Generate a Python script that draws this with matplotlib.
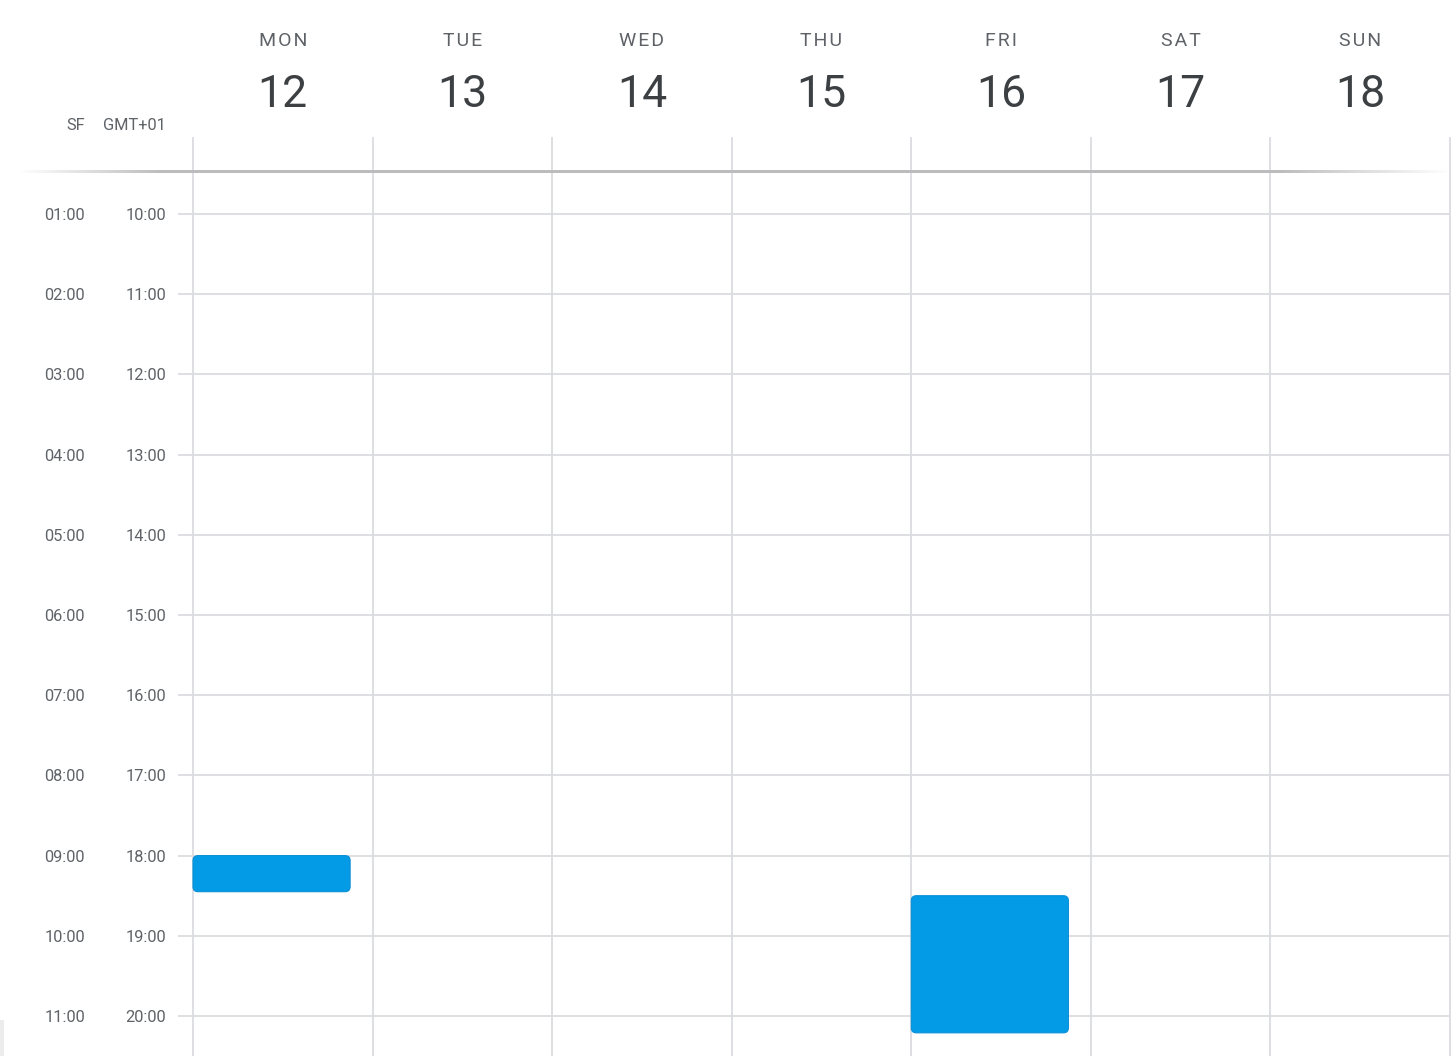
import matplotlib
matplotlib.use("Agg")
import matplotlib.pyplot as plt
from matplotlib.patches import FancyBboxPatch, Rectangle
import numpy as np

# ---- data ----
day_names = ["MON", "TUE", "WED", "THU", "FRI", "SAT", "SUN"]
day_numbers = ["12", "13", "14", "15", "16", "17", "18"]
hours_local = [10, 11, 12, 13, 14, 15, 16, 17, 18, 19, 20]        # GMT+01
hour_labels_local = ["10:00", "11:00", "12:00", "13:00", "14:00", "15:00",
                     "16:00", "17:00", "18:00", "19:00", "20:00"]
hour_labels_sf = ["01:00", "02:00", "03:00", "04:00", "05:00", "06:00",
                  "07:00", "08:00", "09:00", "10:00", "11:00"]
event_days = [0, 4]
event_start = [18.0, 18.5]
event_end = [18.45, 20.21]
event_width = 0.875

# ---- layout (pixel geometry of the 1456x1056 canvas) ----
W, H = 1456, 1056
px_day = (1450 - 193) / 7.0
px_hour = (1016 - 214) / 10.0
x0_px, y10_px = 193, 214

fig = plt.figure(figsize=(W / 100, H / 100), dpi=100)
ax = fig.add_axes([0, 0, 1, 1])

def px2x(p):
    return (p - x0_px) / px_day

def px2y(p):
    return 10 + (p - y10_px) / px_hour

grid_c = "#dadce0"
font = ["Roboto", "DejaVu Sans"]

# vertical day separators
y_top = px2y(137)
y_bot = px2y(H)
for d in range(8):
    ax.plot([d, d], [y_top, y_bot], color=grid_c, lw=1.3, zorder=1,
            solid_capstyle="butt")

# horizontal hour lines
x_left = px2x(178)
for h in hours_local:
    ax.plot([x_left, 7], [h, h], color=grid_c, lw=1.3, zorder=1,
            solid_capstyle="butt")

# header separator with faded edges (smooth gradient image)
n = 600
t = np.linspace(0, 1, n)
alpha = np.clip(np.minimum(t / 0.10, (1 - t) / 0.12), 0, 1)
rgba = np.zeros((1, n, 4))
rgba[..., 0:3] = 0.74
rgba[0, :, 3] = alpha
ax.imshow(rgba, extent=[px2x(18), px2x(1452), px2y(172.5), px2y(170)],
          aspect="auto", interpolation="bilinear", zorder=2)

ax.set_xlim(-x0_px / px_day, (W - x0_px) / px_day)
ax.set_ylim(10 + (H - y10_px) / px_hour, 10 - y10_px / px_hour)
ax.axis("off")

# header texts
for d in range(7):
    cx = d + 0.5
    ax.text(cx, px2y(46), "\u200a".join(day_names[d]), ha="center",
            va="baseline", fontsize=14, color="#5f6368", family=font)
    ax.text(cx, px2y(107), day_numbers[d], ha="center", va="baseline",
            fontsize=32, color="#3c4043", family=font)

ax.text(px2x(85), px2y(130), "SF", ha="right", va="baseline",
        fontsize=11.8, color="#5f6368", family=font)
ax.text(px2x(166), px2y(130), "GMT+01", ha="right", va="baseline",
        fontsize=11.8, color="#5f6368", family=font)

# time labels
off = 6 / px_hour
for h, l_sf, l_loc in zip(hours_local, hour_labels_sf, hour_labels_local):
    ax.text(px2x(85), h + off, l_sf, ha="right", va="baseline",
            fontsize=11.8, color="#5f6368", family=font)
    ax.text(px2x(166), h + off, l_loc, ha="right", va="baseline",
            fontsize=11.8, color="#5f6368", family=font)

# events
aspect = px_day / px_hour
for d, s, e in zip(event_days, event_start, event_end):
    box = FancyBboxPatch((d, s), event_width, e - s,
                         boxstyle="round,pad=0,rounding_size=%f" % (5 / px_day),
                         mutation_aspect=aspect,
                         facecolor="#039be5", edgecolor="#0a8fd6", lw=0.8,
                         zorder=5)
    ax.add_patch(box)

# small grey mark at bottom-left edge
fig.patches.append(Rectangle((0, 0), 4 / W, 36 / H, transform=fig.transFigure,
                             facecolor="#ececec", edgecolor="none"))

fig.savefig("out.png", dpi=100)
